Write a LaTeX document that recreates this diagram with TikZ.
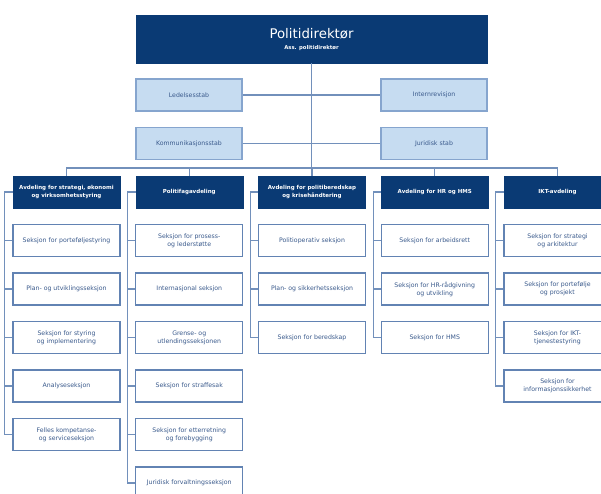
\documentclass[tikz,border=0pt]{standalone}
\usepackage{fontspec}
\setmainfont{DejaVu Sans}
\definecolor{navy}{HTML}{0A3A74}
\definecolor{stabfill}{HTML}{C6DCF1}
\definecolor{stabline}{HTML}{86A5CE}
\definecolor{boxline}{HTML}{6283B3}
\definecolor{linecol}{HTML}{7290BB}
\definecolor{textcol}{HTML}{3A5A8C}
\begin{document}
\begin{tikzpicture}[x=1pt,y=-1pt,
  topbox/.style={fill=navy,draw=navy,minimum width=351pt,minimum height=48pt,
    inner sep=0pt,text=white,align=center},
  stab/.style={fill=stabfill,draw=stabline,line width=1.2pt,minimum width=106pt,
    minimum height=32pt,inner sep=0pt,text=textcol,font=\fontsize{6.2}{8}\selectfont},
  avdeling/.style={fill=navy,draw=navy,minimum width=107pt,minimum height=32pt,
    inner sep=0pt,text=white,align=center,font=\fontsize{5.5}{8}\selectfont\bfseries},
  seksjon/.style={fill=white,draw=boxline,line width=1.1pt,minimum width=107pt,
    minimum height=32pt,inner sep=0pt,text=textcol,align=center,
    font=\fontsize{6.2}{8}\selectfont},
  linje/.style={draw=linecol,line width=1.1pt}]
  \clip (0,0) rectangle (601,493);
  \fill[white] (0,0) rectangle (601,493);

  % top and staff
  \node[topbox] (pd) at (311.5,39)
    {{\fontsize{13.3}{15}\selectfont Politidirektør}\\[-1pt]
     {\fontsize{5.3}{6}\selectfont\bfseries Ass. politidirektør}};
  \node[stab] (led) at (189,95) {Ledelsesstab};
  \node[stab] (intern) at (434,95) {Internrevisjon};
  \node[stab] (komm) at (189,143.5) {Kommunikasjonsstab};
  \node[stab] (jur) at (434,143.5) {Juridisk stab};
  \coordinate (bus) at (311.5,168);

  \draw[linje] (pd.south) -- (bus);
  \draw[linje] (led.east) -- (intern.west);
  \draw[linje] (komm.east) -- (jur.west);

  % departments
  \foreach \t [count=\k] in {{Avdeling for strategi, økonomi\\og virksomhetsstyring},
      {Politifagavdeling},{Avdeling for politiberedskap\\og krisehåndtering},
      {Avdeling for HR og HMS},{IKT-avdeling}}
    \node[avdeling] (d\k) at (66.5+122.75*\k-122.75,192) {\t};

  \draw[linje] (d1.north) -- (d1.north |- bus) -| (d5.north);
  \foreach \k in {2,3,4}
    \draw[linje] (d\k.north) -- (d\k.north |- bus);

  % sections
  \foreach \t [count=\i] in {{Seksjon for porteføljestyring},{Plan- og utviklingsseksjon},
      {Seksjon for styring\\og implementering},{Analyseseksjon},
      {Felles kompetanse-\\og serviceseksjon}}
    \node[seksjon] (s1\i) at (66.5,192+48.5*\i) {\t};
  \foreach \t [count=\i] in {{Seksjon for prosess-\\og lederstøtte},{Internasjonal seksjon},
      {Grense- og\\utlendingsseksjonen},{Seksjon for straffesak},
      {Seksjon for etterretning\\og forebygging},{Juridisk forvaltningsseksjon}}
    \node[seksjon] (s2\i) at (189.25,192+48.5*\i) {\t};
  \foreach \t [count=\i] in {{Politioperativ seksjon},{Plan- og sikkerhetsseksjon},
      {Seksjon for beredskap}}
    \node[seksjon] (s3\i) at (312,192+48.5*\i) {\t};
  \foreach \t [count=\i] in {{Seksjon for arbeidsrett},
      {Seksjon for HR-rådgivning\\og utvikling},{Seksjon for HMS}}
    \node[seksjon] (s4\i) at (434.75,192+48.5*\i) {\t};
  \foreach \t [count=\i] in {{Seksjon for strategi\\og arkitektur},
      {Seksjon for portefølje\\og prosjekt},{Seksjon for IKT-\\tjenestestyring},
      {Seksjon for\\informasjonssikkerhet}}
    \node[seksjon] (s5\i) at (557.5,192+48.5*\i) {\t};

  % rails
  \draw[linje] (d1.west) -- ++(-8,0) |- (s15.west);
  \draw[linje] (d2.west) -- ++(-8,0) |- (s26.west);
  \draw[linje] (d3.west) -- ++(-8,0) |- (s33.west);
  \draw[linje] (d4.west) -- ++(-8,0) |- (s43.west);
  \draw[linje] (d5.west) -- ++(-8,0) |- (s54.west);
  \foreach \i in {1,...,4}
    \draw[linje] (s1\i.west) -- ++(-8,0);
  \foreach \i in {1,...,5}
    \draw[linje] (s2\i.west) -- ++(-8,0);
  \foreach \i in {1,2}
    \draw[linje] (s3\i.west) -- ++(-8,0) (s4\i.west) -- ++(-8,0);
  \foreach \i in {1,2,3}
    \draw[linje] (s5\i.west) -- ++(-8,0);
\end{tikzpicture}
\end{document}
